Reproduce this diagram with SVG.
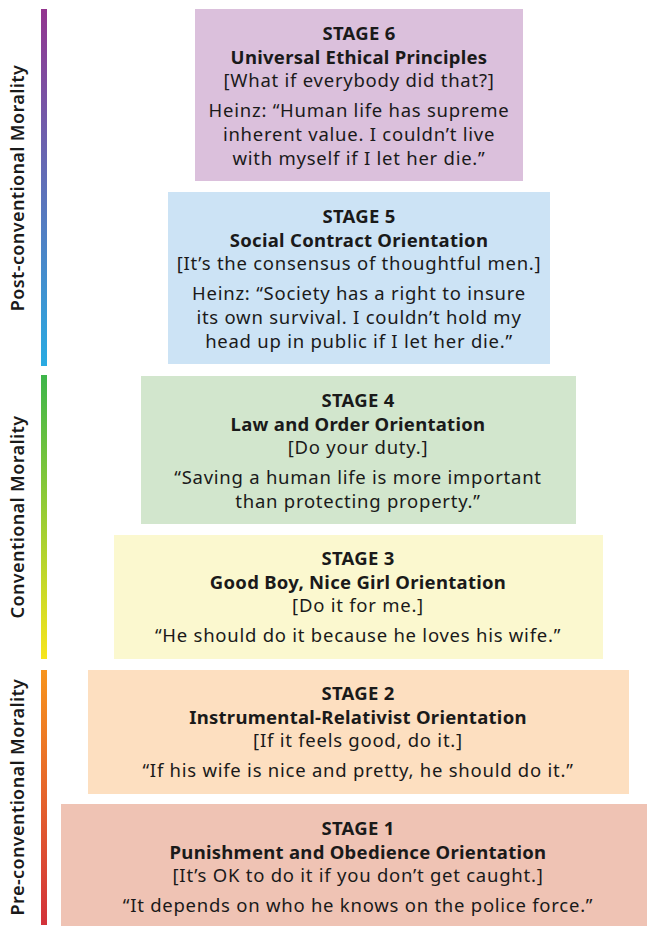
<svg xmlns="http://www.w3.org/2000/svg" width="647" height="926" viewBox="0 0 647 926">
<defs>
<linearGradient id="gPost" x1="0" y1="0" x2="0" y2="1"><stop offset="0" stop-color="#93358f"/><stop offset="1" stop-color="#29abe2"/></linearGradient>
<linearGradient id="gConv" x1="0" y1="0" x2="0" y2="1"><stop offset="0" stop-color="#3db54a"/><stop offset="1" stop-color="#f7e51e"/></linearGradient>
<linearGradient id="gPre" x1="0" y1="0" x2="0" y2="1"><stop offset="0" stop-color="#f7941d"/><stop offset="1" stop-color="#d2323a"/></linearGradient>
<style>
text{font-family:"Noto Sans","Liberation Sans",sans-serif;font-size:18.5px;fill:#1a1a1a;text-anchor:middle;letter-spacing:0.75px}
.b{font-weight:700;letter-spacing:0.28px}
.side{font-weight:600;font-size:18px;letter-spacing:0.4px}
</style>
</defs>
<rect width="647" height="926" fill="#ffffff"/>
<g id="levels">
<rect x="41" y="9" width="6" height="357" fill="url(#gPost)"/>
<rect x="41" y="375" width="6" height="284" fill="url(#gConv)"/>
<rect x="41" y="670" width="6" height="255" fill="url(#gPre)"/>
<text class="side" transform="translate(24,188) rotate(-90)">Post-conventional Morality</text>
<text class="side" transform="translate(24,517) rotate(-90)">Conventional Morality</text>
<text class="side" transform="translate(24,797) rotate(-90)">Pre-conventional Morality</text>
</g>
<g id="stage6">
<rect x="195" y="9" width="328" height="172" fill="#dbc0dc"/>
<text x="359" y="40" class="b">STAGE 6</text>
<text x="359" y="64" class="b">Universal Ethical Principles</text>
<text x="359" y="87">[What if everybody did that?]</text>
<text x="359" y="117">Heinz: “Human life has supreme</text>
<text x="359" y="141">inherent value. I couldn’t live</text>
<text x="359" y="165">with myself if I let her die.”</text>
</g>
<g id="stage5">
<rect x="168" y="192" width="382" height="172" fill="#cce3f5"/>
<text x="359" y="223" class="b">STAGE 5</text>
<text x="359" y="247" class="b">Social Contract Orientation</text>
<text x="359" y="270">[It’s the consensus of thoughtful men.]</text>
<text x="359" y="300">Heinz: “Society has a right to insure</text>
<text x="359" y="324">its own survival. I couldn’t hold my</text>
<text x="359" y="348">head up in public if I let her die.”</text>
</g>
<g id="stage4">
<rect x="141" y="376" width="435" height="148" fill="#d2e6cd"/>
<text x="358" y="407" class="b">STAGE 4</text>
<text x="358" y="431" class="b">Law and Order Orientation</text>
<text x="358" y="454">[Do your duty.]</text>
<text x="358" y="484">“Saving a human life is more important</text>
<text x="358" y="508">than protecting property.”</text>
</g>
<g id="stage3">
<rect x="114" y="535" width="489" height="124" fill="#fbf8cf"/>
<text x="358" y="565" class="b">STAGE 3</text>
<text x="358" y="589" class="b">Good Boy, Nice Girl Orientation</text>
<text x="358" y="612">[Do it for me.]</text>
<text x="358" y="642">“He should do it because he loves his wife.”</text>
</g>
<g id="stage2">
<rect x="88" y="670" width="541" height="124" fill="#fddfc0"/>
<text x="358" y="700" class="b">STAGE 2</text>
<text x="358" y="724" class="b">Instrumental-Relativist Orientation</text>
<text x="358" y="747">[If it feels good, do it.]</text>
<text x="358" y="777">“If his wife is nice and pretty, he should do it.”</text>
</g>
<g id="stage1">
<rect x="61" y="804" width="586" height="122" fill="#efc3b4"/>
<text x="358" y="835" class="b">STAGE 1</text>
<text x="358" y="859" class="b">Punishment and Obedience Orientation</text>
<text x="358" y="882">[It’s OK to do it if you don’t get caught.]</text>
<text x="358" y="912">“It depends on who he knows on the police force.”</text>
</g>
<g id="connectors"/>
</svg>
